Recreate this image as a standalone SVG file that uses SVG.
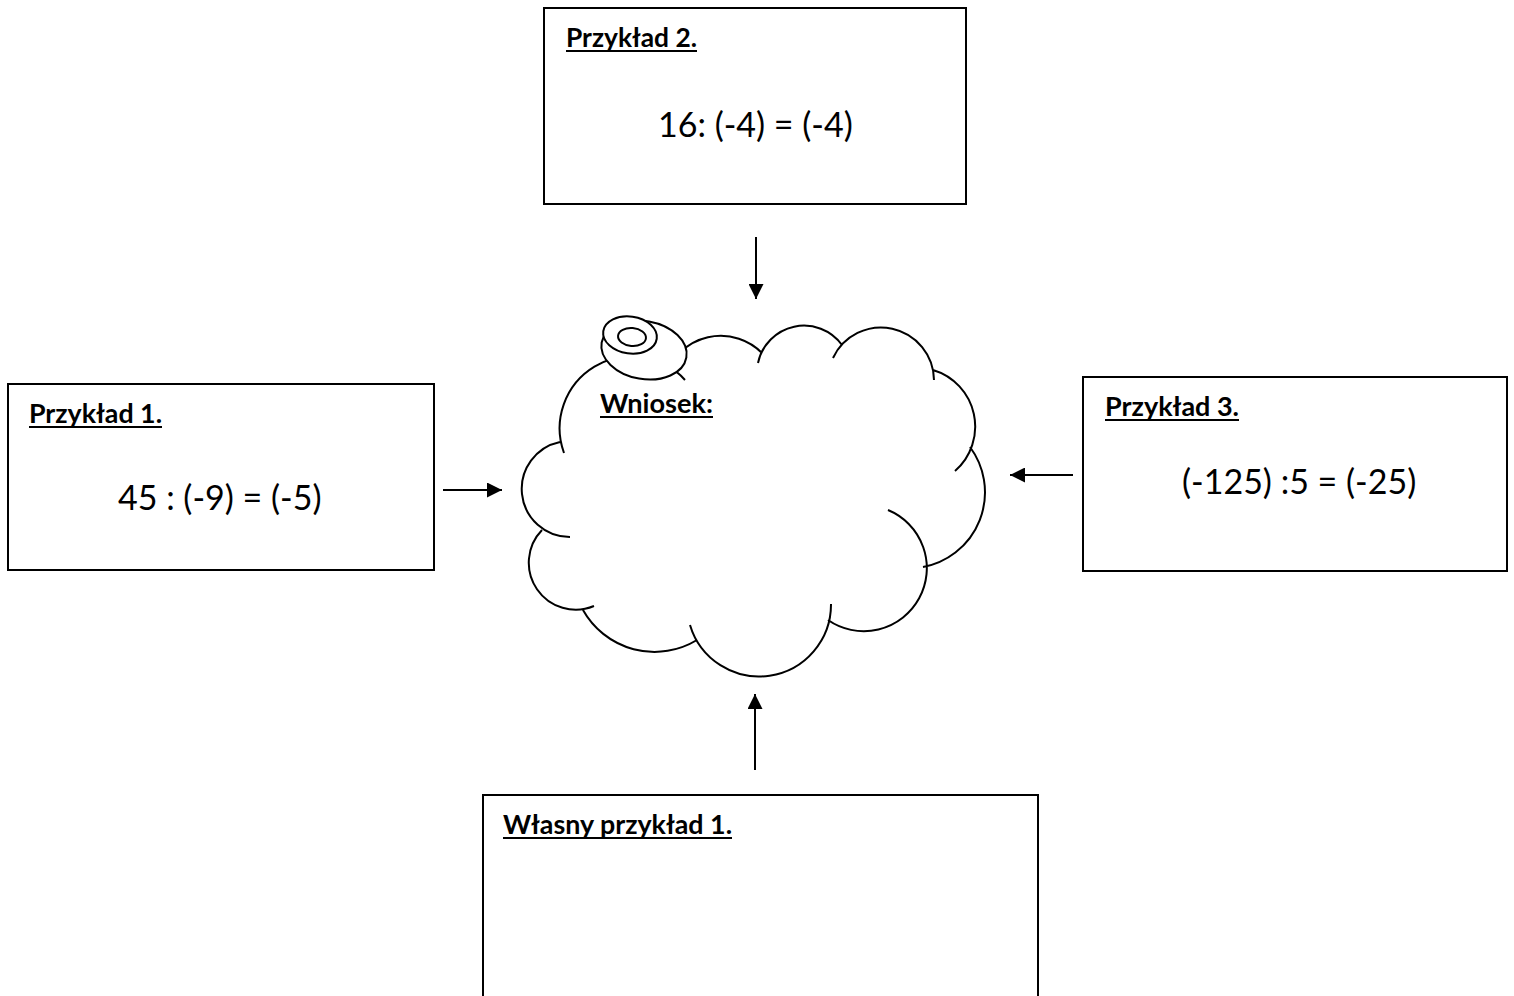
<svg xmlns="http://www.w3.org/2000/svg" width="1514" height="996" viewBox="0 0 1514 996">
<style>
.box{fill:#fff;stroke:#000;stroke-width:2}
.title{font-family:Lato,"Open Sans","Liberation Sans",sans-serif;font-weight:bold;font-size:26px;fill:#000}
.eq{font-family:Lato,"Open Sans","Liberation Sans",sans-serif;font-size:34px;fill:#000}
.ul{stroke:#000;stroke-width:2}
.cloud{fill:none;stroke:#000;stroke-width:2}
.conn{stroke:#000;stroke-width:2;fill:none;marker-end:url(#ah)}
</style>
<defs>
<marker id="ah" markerUnits="userSpaceOnUse" markerWidth="15" markerHeight="15" refX="15" refY="7.5" orient="auto">
<path d="M0,0 L15,7.5 L0,15 z" fill="#000"/>
</marker>
</defs>
<rect width="1514" height="996" fill="#fff"/>

<g id="przyklad2">
<rect class="box" x="544" y="8" width="422" height="196"/>
<text class="title" x="566" y="47" textLength="131" lengthAdjust="spacingAndGlyphs">Przykład 2.</text>
<line class="ul" x1="566" y1="51" x2="697" y2="51"/>
<text class="eq" x="658" y="137">16: (-4) = (-4)</text>
</g>

<g id="przyklad1">
<rect class="box" x="8" y="384" width="426" height="186"/>
<text class="title" x="29" y="423" textLength="133" lengthAdjust="spacingAndGlyphs">Przykład 1.</text>
<line class="ul" x1="29" y1="427" x2="162" y2="427"/>
<text class="eq" x="118" y="510">45 : (-9) = (-5)</text>
</g>

<g id="przyklad3">
<rect class="box" x="1083" y="377" width="424" height="194"/>
<text class="title" x="1105" y="416" textLength="134" lengthAdjust="spacingAndGlyphs">Przykład 3.</text>
<line class="ul" x1="1105" y1="420" x2="1239" y2="420"/>
<text class="eq" x="1182" y="494">(-125) :5 = (-25)</text>
</g>

<g id="wlasny">
<rect class="box" x="483" y="795" width="555" height="220"/>
<text class="title" x="503" y="834" textLength="229" lengthAdjust="spacingAndGlyphs">Własny przykład 1.</text>
<line class="ul" x1="503" y1="838" x2="732" y2="838"/>
</g>

<g id="wniosek">
<path class="cloud" d="M564,453 A72,72 0 0 1 685,380 M666,375 A58,58 0 0 1 762,353 M758,363 A47,47 0 0 1 842,345 M833,358 A53,53 0 0 1 934,380 M933,370 A59,59 0 0 1 955,471 M970,447 A76,76 0 0 1 923,567 M888,510 A63,63 0 1 1 828,620 M831,604 A72,72 0 0 1 690,625 M697,640 A82,82 0 0 1 583,610 M594,606 A47,47 0 0 1 542,530 M570,537 A48,48 0 0 1 560,442"/>
<ellipse cx="644" cy="350" rx="43" ry="29" transform="rotate(10 644 350)" fill="#fff" stroke="#000" stroke-width="2"/>
<ellipse cx="630" cy="335" rx="27" ry="18.5" transform="rotate(8 630 335)" fill="#fff" stroke="#000" stroke-width="2"/>
<ellipse cx="632" cy="337" rx="14" ry="9" transform="rotate(5 632 337)" fill="none" stroke="#000" stroke-width="2"/>
<text class="title" x="600" y="413" textLength="113" lengthAdjust="spacingAndGlyphs">Wniosek:</text>
<line class="ul" x1="600" y1="417" x2="713" y2="417"/>
</g>

<g id="connectors">
<line class="conn" x1="443" y1="490" x2="502" y2="490"/>
<line class="conn" x1="756" y1="237" x2="756" y2="299"/>
<line class="conn" x1="1073" y1="475" x2="1010" y2="475"/>
<line class="conn" x1="755" y1="770" x2="755" y2="694"/>
</g>
</svg>
